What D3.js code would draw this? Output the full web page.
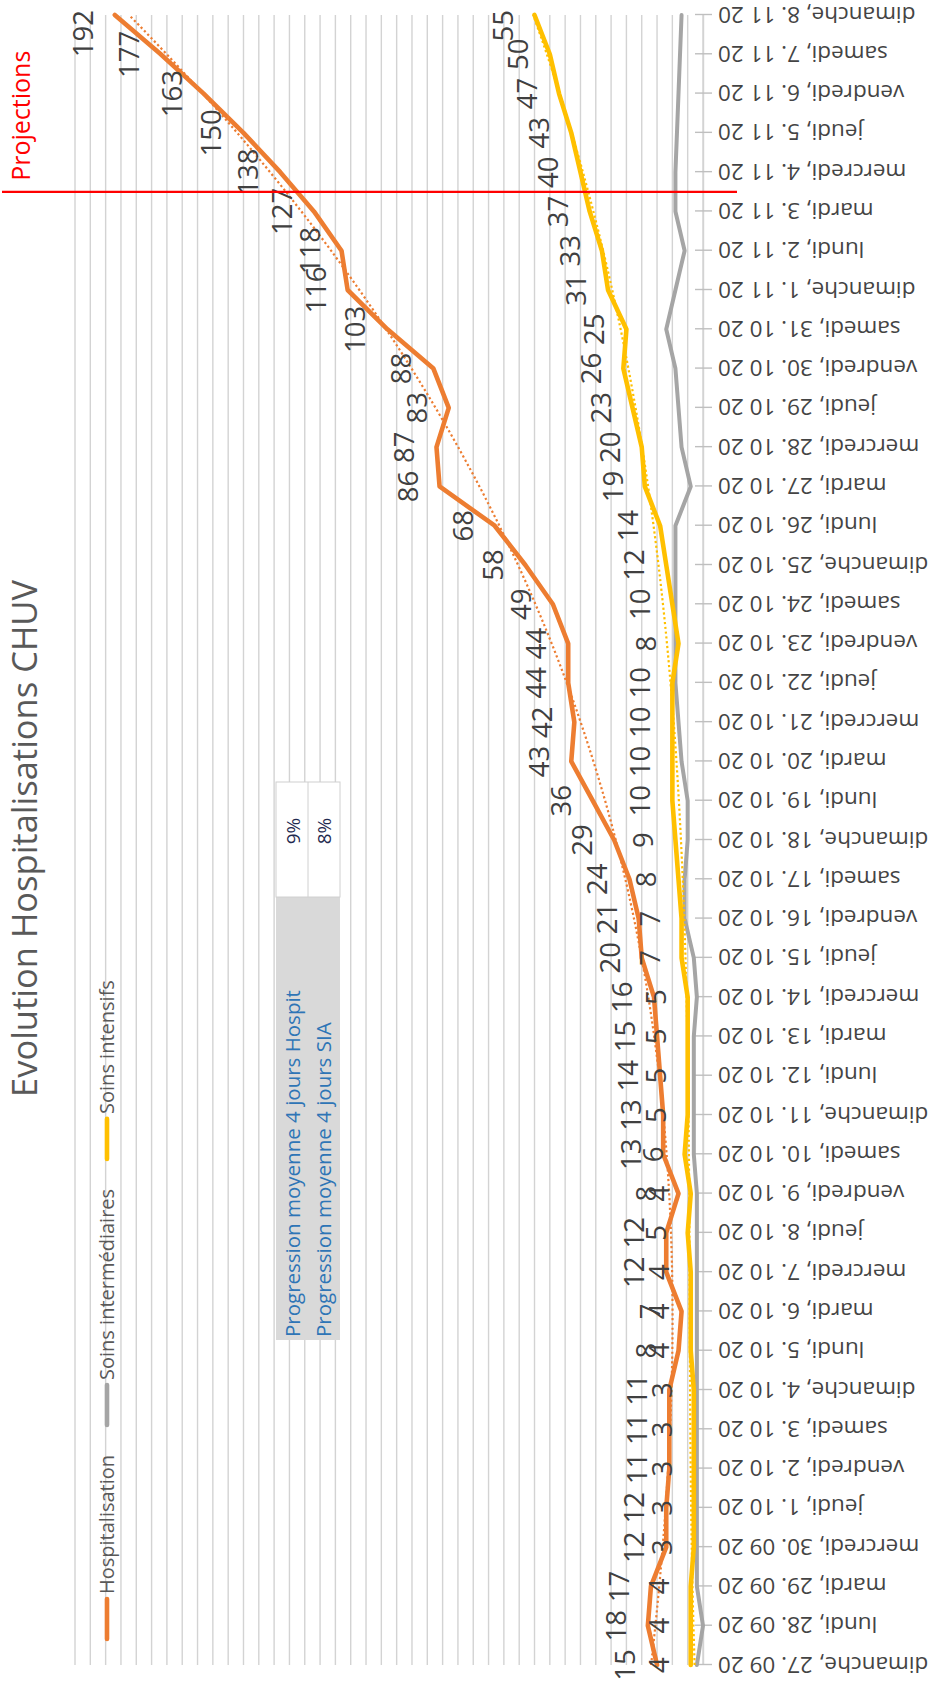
<!DOCTYPE html>
<html>
<head>
<meta charset="utf-8">
<script src="https://cdn.jsdelivr.net/npm/d3@7"></script>
<style>
  body { margin: 0; background: #fff; }
  text { font-family: "Open Sans", sans-serif; }
</style>
</head>
<body>
<script>
// categories (27.09.20 -> 08.11.20)
const dates = [
  'dimanche, 27. 09 20', 'lundi, 28. 09 20', 'mardi, 29. 09 20', 'mercredi, 30. 09 20',
  'jeudi, 1. 10 20', 'vendredi, 2. 10 20', 'samedi, 3. 10 20', 'dimanche, 4. 10 20',
  'lundi, 5. 10 20', 'mardi, 6. 10 20', 'mercredi, 7. 10 20', 'jeudi, 8. 10 20',
  'vendredi, 9. 10 20', 'samedi, 10. 10 20', 'dimanche, 11. 10 20', 'lundi, 12. 10 20',
  'mardi, 13. 10 20', 'mercredi, 14. 10 20', 'jeudi, 15. 10 20', 'vendredi, 16. 10 20',
  'samedi, 17. 10 20', 'dimanche, 18. 10 20', 'lundi, 19. 10 20', 'mardi, 20. 10 20',
  'mercredi, 21. 10 20', 'jeudi, 22. 10 20', 'vendredi, 23. 10 20', 'samedi, 24. 10 20',
  'dimanche, 25. 10 20', 'lundi, 26. 10 20', 'mardi, 27. 10 20', 'mercredi, 28. 10 20',
  'jeudi, 29. 10 20', 'vendredi, 30. 10 20', 'samedi, 31. 10 20', 'dimanche, 1. 11 20',
  'lundi, 2. 11 20', 'mardi, 3. 11 20', 'mercredi, 4. 11 20', 'jeudi, 5. 11 20',
  'vendredi, 6. 11 20', 'samedi, 7. 11 20', 'dimanche, 8. 11 20'
];

// series
const hospitalisation = [15, 18, 17, 12, 12, 11, 11, 11, 8, 7, 12, 12, 8, 13, 13, 14, 15, 16, 20, 21, 24, 29,
  36, 43, 42, 44, 44, 49, 58, 68, 86, 87, 83, 88, 103, 116, 118, 127, 138, 150, 163, 177, 192];
const soinsIntermediaires = [2, 0, 2, 2, 2, 2, 2, 2, 2, 2, 2, 2, 2, 3, 3, 3, 3, 2, 3, 6, 6, 5,
  5, 7, 8, 9, 9, 9, 9, 9, 4, 7, 8, 9, 12, 9, 6, 9, 9, 8.5, 8, 7.5, 7];
const soinsIntensifs = [4, 4, 4, 3, 3, 3, 3, 3, 4, 4, 4, 5, 4, 6, 5, 5, 5, 5, 7, 7, 8, 9,
  10, 10, 10, 10, 8, 10, 12, 14, 19, 20, 23, 26, 25, 31, 33, 37, 40, 43, 47, 50, 55];

const gridValues = d3.range(0, 206, 5);
const legendNames = ['Hospitalisation', 'Soins intermédiaires', 'Soins intensifs'];
const tableLabels = ['Progression moyenne 4 jours Hospit', 'Progression moyenne 4 jours SIA'];
const tableValues = ['9%', '8%'];
const projectionStart = 'mercredi, 4. 11 20';

const colors = { hosp: '#ED7D31', inter: '#A5A5A5', intens: '#FFC000' };

// the chart is drawn landscape, then turned a quarter to the left
const svg = d3.select('body').append('svg')
  .attr('width', 934)
  .attr('height', 1686);

const g = svg.append('g')
  .attr('transform', 'translate(0,1686) rotate(-90)');

const x = d3.scalePoint().domain(dates).range([21, 1671]);
const xi = d3.scaleLinear().domain([0, dates.length - 1]).range([21, 1671]);
const y = d3.scaleLinear().domain([0, 205]).range([703, 75]);

// gridlines
g.append('g')
  .selectAll('line')
  .data(gridValues)
  .join('line')
  .attr('x1', 21).attr('x2', 1671)
  .attr('y1', d => y(d)).attr('y2', d => y(d))
  .attr('stroke', '#d3d3d3')
  .attr('stroke-width', 1.4);

// category axis
const axis = g.append('g')
  .attr('transform', `translate(0,${y(0)})`)
  .call(d3.axisBottom(x).tickSize(9).tickSizeOuter(0));
axis.attr('font-family', '"Open Sans", sans-serif').attr('font-size', 22.5);
axis.select('.domain').attr('stroke', '#d3d3d3').attr('stroke-width', 1.4);
axis.selectAll('.tick line').attr('y1', -8).attr('stroke', '#bfbfbf').attr('stroke-width', 1.4);
axis.selectAll('.tick text')
  .attr('transform', 'rotate(-90)')
  .attr('text-anchor', 'end')
  .attr('x', -15)
  .attr('y', 0)
  .attr('dy', '0.35em')
  .attr('fill', '#444');

// table (cells laid over the plot)
const table = g.append('g');
table.append('rect').attr('x', 346).attr('y', 276).attr('width', 443).attr('height', 64).attr('fill', '#d9d9d9');
table.append('rect').attr('x', 789).attr('y', 276).attr('width', 115).attr('height', 64)
  .attr('fill', '#fff').attr('stroke', '#d0d0d0');
table.append('line').attr('x1', 789).attr('x2', 904).attr('y1', 308).attr('y2', 308).attr('stroke', '#d0d0d0');
table.selectAll('.lab').data(tableLabels).join('text')
  .attr('class', 'lab')
  .attr('x', 349).attr('y', (d, i) => 300 + i * 31)
  .attr('font-size', 20.5).attr('fill', '#2E75B6')
  .text(d => d);
table.selectAll('.val').data(tableValues).join('text')
  .attr('class', 'val')
  .attr('x', 855).attr('y', (d, i) => 300 + i * 31)
  .attr('text-anchor', 'middle')
  .attr('font-size', 19).attr('fill', '#1f2a4f')
  .text(d => d);

// polynomial trendline (least squares, like the spreadsheet)
const polyfit = (ys, order) => {
  const n = order + 1;
  const A = d3.range(n).map(() => new Array(n + 1).fill(0));
  ys.forEach((v, i) => {
    const t = i + 1;
    for (let r = 0; r < n; r++) {
      for (let c = 0; c < n; c++) A[r][c] += Math.pow(t, r + c);
      A[r][n] += v * Math.pow(t, r);
    }
  });
  for (let p = 0; p < n; p++) {
    let m = p;
    for (let r = p + 1; r < n; r++) if (Math.abs(A[r][p]) > Math.abs(A[m][p])) m = r;
    [A[p], A[m]] = [A[m], A[p]];
    for (let r = 0; r < n; r++) {
      if (r === p) continue;
      const f = A[r][p] / A[p][p];
      for (let c = p; c <= n; c++) A[r][c] -= f * A[p][c];
    }
  }
  const coef = A.map((row, i) => row[n] / row[i]);
  return t => coef.reduce((s, c, k) => s + c * Math.pow(t + 1, k), 0);
};

const trend = (series, color) => {
  const f = polyfit(series, 3);
  const pts = d3.range(0, dates.length - 1 + 0.01, 0.25).map(t => [xi(t), y(f(t))]);
  g.append('path')
    .attr('d', d3.line()(pts))
    .attr('fill', 'none')
    .attr('stroke', color)
    .attr('stroke-width', 2.2)
    .attr('stroke-dasharray', '2.2 2.6');
};

const line = d3.line().x((d, i) => x(dates[i])).y(d => y(d));
const drawSeries = (series, color, width) => {
  g.append('path')
    .datum(series)
    .attr('d', line)
    .attr('fill', 'none')
    .attr('stroke', color)
    .attr('stroke-width', width)
    .attr('stroke-linejoin', 'round')
    .attr('stroke-linecap', 'round');
};

drawSeries(hospitalisation, colors.hosp, 4.6);
drawSeries(soinsIntermediaires, colors.inter, 4);
drawSeries(soinsIntensifs, colors.intens, 4.6);
trend(hospitalisation, colors.hosp);
trend(soinsIntensifs, colors.intens);

// data labels, above each point
const drawLabels = (series) => {
  g.append('g')
    .selectAll('text')
    .data(series)
    .join('text')
    .attr('x', (d, i) => x(dates[i]))
    .attr('y', d => y(d) - 22)
    .attr('text-anchor', 'middle')
    .attr('font-size', 27.5)
    .attr('fill', '#404040')
    .text(d => d)
    .each(function () {
      const w = this.getComputedTextLength();
      const cx = +this.getAttribute('x');
      if (cx + w / 2 > 1676) this.setAttribute('x', 1676 - w / 2);
      if (cx - w / 2 < 4) this.setAttribute('x', 4 + w / 2);
    });
};
drawLabels(hospitalisation);
drawLabels(soinsIntensifs);

// projections marker
const px = (x(projectionStart) + x(dates[dates.indexOf(projectionStart) - 1])) / 2;
g.append('line')
  .attr('x1', px).attr('x2', px)
  .attr('y1', 2).attr('y2', 737)
  .attr('stroke', '#ff0000')
  .attr('stroke-width', 2.2);
g.append('text')
  .attr('x', px + 11).attr('y', 30)
  .attr('font-size', 25)
  .attr('fill', '#ff0000')
  .text('Projections');

// title
g.append('text')
  .attr('x', 589).attr('y', 37)
  .attr('font-size', 34.5)
  .attr('fill', '#595959')
  .text('Evolution Hospitalisations CHUV');

// legend
const legendColors = [colors.hosp, colors.inter, colors.intens];
let lx = 45;
legendNames.forEach((name, i) => {
  g.append('line')
    .attr('x1', lx + 2).attr('x2', lx + 42)
    .attr('y1', 107).attr('y2', 107)
    .attr('stroke', legendColors[i])
    .attr('stroke-width', 4.6)
    .attr('stroke-linecap', 'round');
  const t = g.append('text')
    .attr('x', lx + 47).attr('y', 114)
    .attr('font-size', 20)
    .attr('fill', '#595959')
    .text(name);
  lx += 47 + t.node().getComputedTextLength() + 28;
});
</script>
</body>
</html>
